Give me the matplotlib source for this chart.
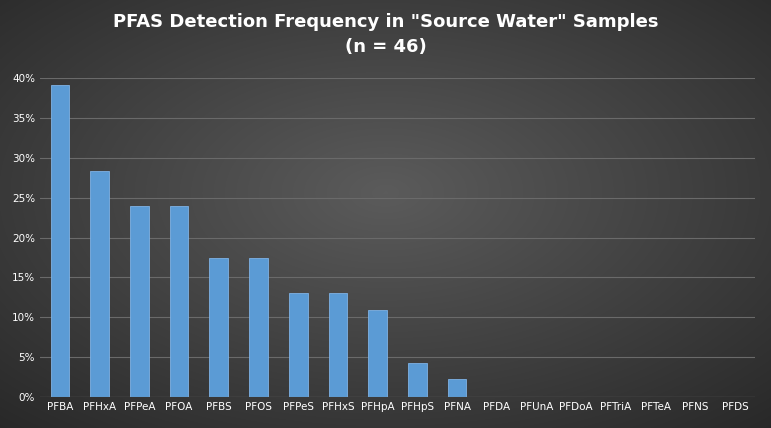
import matplotlib
matplotlib.use("Agg")
import matplotlib.pyplot as plt
import numpy as np

categories = ["PFBA","PFHxA","PFPeA","PFOA","PFBS","PFOS","PFPeS","PFHxS","PFHpA","PFHpS","PFNA","PFDA","PFUnA","PFDoA","PFTriA","PFTeA","PFNS","PFDS"]
values = [39.1,28.3,23.9,23.9,17.4,17.4,13.0,13.0,10.9,4.3,2.2,0,0,0,0,0,0,0]

W, H = 771, 428
fig = plt.figure(figsize=(W/100, H/100), dpi=100)
bg = fig.add_axes([0,0,1,1])
yy, xx = np.mgrid[0:H, 0:W]
r = np.sqrt(((xx-W/2)/(W*0.6))**2 + ((yy-H*0.45)/(H*0.6))**2)
img = np.clip(0.36 - 0.16*r, 0.14, 0.38)
bg.imshow(img, cmap="gray", vmin=0, vmax=1, aspect="auto", extent=[0,1,0,1])
bg.axis("off")

ax = fig.add_axes([40/W, 1-397/H, 715/W, (397-78)/H])
ax.patch.set_alpha(0)
x = np.arange(len(categories))
ax.bar(x, values, width=0.47, color="#5b9bd5", edgecolor="#7fb2e5", linewidth=0.6, zorder=3)
ax.set_xlim(-0.5, len(categories)-0.5)
ax.set_ylim(0, 40)
ax.set_yticks(range(0, 41, 5))
ax.set_yticklabels([f"{v}%" for v in range(0, 41, 5)])
ax.set_xticks(x)
ax.set_xticklabels(categories)
ax.tick_params(colors="white", labelsize=7.5, length=0)
ax.grid(axis="y", color="#6a6a6a", linewidth=0.8, zorder=0)
for s in ax.spines.values():
    s.set_visible(False)
ax.axhline(0, color="#8a8a8a", linewidth=0.8, zorder=4)
fig.text(0.5, 1-22/H, 'PFAS Detection Frequency in "Source Water" Samples', color="white",
         ha="center", va="center", fontsize=13, fontweight="bold")
fig.text(0.5, 1-47/H, "(n = 46)", color="white", ha="center", va="center", fontsize=13, fontweight="bold")
fig.savefig("out.png", dpi=100)
